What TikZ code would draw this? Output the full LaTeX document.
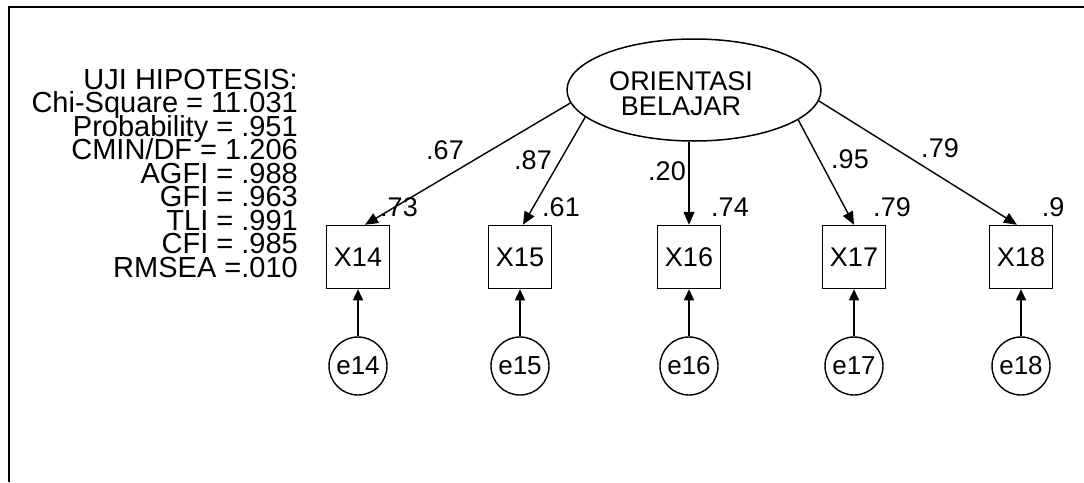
\documentclass[tikz,border=0pt]{standalone}
\usepackage{fontspec}
\setmainfont{Liberation Sans}
\usetikzlibrary{arrows.meta,shapes.geometric}
\begin{document}
\begin{tikzpicture}[x=1pt,y=-1pt,
  obs/.style={draw,line width=1.5pt,minimum width=63pt,minimum height=63pt,inner sep=0pt,font=\fontsize{27}{27}\selectfont},
  err/.style={draw,circle,line width=1.4pt,minimum size=58pt,inner sep=0pt,font=\fontsize{26}{26}\selectfont},
  lat/.style={draw,ellipse,line width=1.5pt,minimum width=254pt,minimum height=102pt,inner sep=0pt},
  lattxt/.style={align=center,inner sep=0pt,font=\fontsize{27}{25}\selectfont},
  load/.style={line width=1.4pt,-{Triangle[length=13pt,width=11pt]}},
  errp/.style={line width=1.4pt,-{Triangle[length=11pt,width=10pt]}},
  lbl/.style={inner sep=0pt,font=\fontsize{27}{27}\selectfont},
  stat/.style={inner sep=0pt,anchor=base east,font=\fontsize{29}{29}\selectfont}
]
\useasboundingbox (0,0) rectangle (1084,482);
% frame
\coordinate (ftl) at (9,7);
\coordinate (ftr) at (1084,7);
\coordinate (fbl) at (9,482);
\draw[line width=2.4pt] (ftr) -- (ftl) -- (fbl);

% statistics
\node[stat] (s1) at (298,89) {UJI HIPOTESIS:};
\node[stat] (s2) at (298,112.5) {Chi-Square = 11.031};
\node[stat] (s3) at (298,136) {Probability = .951};
\node[stat] (s4) at (298,159.5) {CMIN/DF = 1.206};
\node[stat] (s5) at (298,183) {AGFI = .988};
\node[stat] (s6) at (298,206.5) {GFI = .963};
\node[stat] (s7) at (298,230) {TLI = .991};
\node[stat] (s8) at (298,253.5) {CFI = .985};
\node[stat] (s9) at (298,277) {RMSEA =.010};

% latent
\node[lat] (lat) at (694,90) {};
\node[lattxt] (latt) at (681,93.7) {ORIENTASI\\BELAJAR};

% observed
\node[obs] (x14) at (358,257) {X14};
\node[obs] (x15) at (520,257) {X15};
\node[obs] (x16) at (689,257) {X16};
\node[obs] (x17) at (854,257) {X17};
\node[obs] (x18) at (1021,257) {X18};

% errors
\node[err] (e14) at (358,366) {e14};
\node[err] (e15) at (520,366) {e15};
\node[err] (e16) at (689,366) {e16};
\node[err] (e17) at (854,366) {e17};
\node[err] (e18) at (1021,366) {e18};

% loadings
\draw[load] (lat.186) -- ([xshift=7pt]x14.north);
\draw[load] (lat.194) -- ([xshift=3pt]x15.north);
\draw[load] (x16.north |- lat.south) -- (x16.north);
\draw[load] (lat.344) -- (x17.north);
\draw[load] (lat.355) -- ([xshift=-4pt]x18.north);

% error paths
\foreach \i in {14,15,16,17,18}{
  \draw[errp] (e\i) -- (x\i);
}

% loading labels
\node[lbl] (l14) at (445,150) {.67};
\node[lbl] (l15) at (533,160) {.87};
\node[lbl] (l16) at (667,171) {.20};
\node[lbl] (l17) at (850,159) {.95};
\node[lbl] (l18) at (940,148) {.79};

% r-square labels
\node[lbl] (r14) at (399,207) {.73};
\node[lbl] (r15) at (561,207) {.61};
\node[lbl] (r16) at (730,207) {.74};
\node[lbl] (r17) at (892,207) {.79};
\node[lbl] (r18) at (1053,207) {.9};
\end{tikzpicture}
\end{document}
